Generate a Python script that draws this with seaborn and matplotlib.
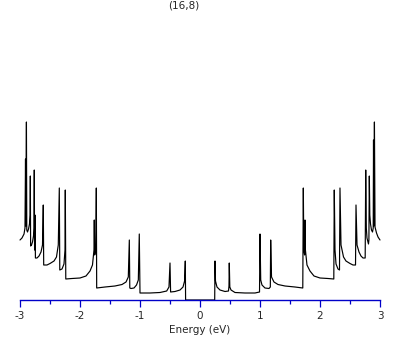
import pandas as pd
import matplotlib
matplotlib.use("Agg")
import matplotlib.pyplot as plt
import seaborn as sns
from matplotlib.ticker import MultipleLocator

# (16,8) nanotube density of states (arbitrary DOS units)
energy = [
    -3.000, -2.967, -2.933, -2.917, -2.908, -2.903, -2.893, -2.887, -2.875, -2.858,
    -2.842, -2.832, -2.828, -2.823, -2.808, -2.792, -2.775, -2.767, -2.762, -2.757,
    -2.750, -2.743, -2.717, -2.683, -2.650, -2.625, -2.612, -2.605, -2.550, -2.500,
    -2.433, -2.392, -2.362, -2.345, -2.337, -2.300, -2.267, -2.250, -2.245, -2.237,
    -2.133, -2.000, -1.900, -1.833, -1.792, -1.767, -1.762, -1.755, -1.737, -1.728,
    -1.722, -1.583, -1.417, -1.300, -1.233, -1.195, -1.178, -1.170, -1.150, -1.100,
    -1.058, -1.028, -1.012, -1.000, -0.833, -0.667, -0.555, -0.517, -0.500, -0.490,
    -0.417, -0.333, -0.283, -0.257, -0.245, -0.240,
    0.245, 0.250, 0.258, 0.283, 0.333, 0.417, 0.475, 0.483, 0.488, 0.497,
    0.517, 0.583, 0.750, 0.917, 0.992, 1.000, 1.012, 1.033, 1.083, 1.150,
    1.172, 1.178, 1.192, 1.233, 1.300, 1.417, 1.583, 1.713, 1.722, 1.730,
    1.743, 1.750, 1.757, 1.783, 1.833, 1.900, 2.000, 2.133, 2.230, 2.238,
    2.250, 2.267, 2.300, 2.325, 2.333, 2.350, 2.392, 2.433, 2.500, 2.550,
    2.592, 2.600, 2.617, 2.650, 2.683, 2.717, 2.753, 2.762, 2.772, 2.783,
    2.808, 2.815, 2.822, 2.830, 2.842, 2.858, 2.875, 2.887, 2.892, 2.898,
    2.907, 2.917, 2.942, 2.967, 3.000,
]
dos = [
    6.0, 6.2, 6.6, 7.2, 14.1, 7.4, 17.8, 7.0, 6.8, 7.1,
    7.6, 8.5, 12.4, 5.4, 5.5, 5.8, 6.4, 7.2, 13.0, 5.0,
    8.5, 4.2, 4.2, 4.4, 4.8, 5.5, 9.5, 3.5, 3.5, 3.65,
    3.9, 4.3, 5.5, 11.2, 3.0, 3.1, 3.6, 5.0, 11.0, 2.1,
    2.15, 2.2, 2.4, 2.9, 3.5, 5.0, 8.0, 4.5, 5.0, 11.2,
    1.2, 1.3, 1.4, 1.55, 1.8, 2.3, 6.0, 1.2, 1.15, 1.2,
    1.5, 2.0, 6.6, 0.7, 0.7, 0.75, 0.9, 1.3, 3.7, 0.8,
    0.85, 1.0, 1.3, 1.9, 3.9, 0.0,
    0.0, 3.9, 1.9, 1.3, 1.0, 0.85, 0.9, 1.4, 3.7, 1.3,
    1.0, 0.75, 0.7, 0.7, 0.8, 6.6, 2.0, 1.5, 1.2, 1.15,
    1.3, 6.0, 2.3, 1.8, 1.55, 1.4, 1.3, 1.2, 11.2, 5.0,
    4.5, 8.0, 5.0, 3.5, 2.9, 2.4, 2.2, 2.15, 2.1, 11.0,
    5.0, 3.6, 3.1, 3.0, 11.2, 5.5, 4.3, 3.9, 3.65, 3.5,
    3.5, 9.5, 5.5, 4.8, 4.4, 4.2, 4.2, 13.0, 7.2, 6.2,
    5.6, 6.0, 12.4, 8.5, 7.6, 7.0, 6.8, 7.2, 16.0, 7.4,
    17.8, 7.3, 6.7, 6.3, 6.0,
]

df = pd.DataFrame({"energy": energy, "dos": dos})

sns.set_style("white")
plt.rcParams["font.family"] = ["DejaVu Sans"]
plt.rcParams["axes.unicode_minus"] = False

axis_blue = "#0000C8"

fig = plt.figure(figsize=(4.09, 3.45), dpi=100)
ax = fig.add_axes([20 / 409, 45 / 345, 360 / 409, 280 / 345])

sns.lineplot(data=df, x="energy", y="dos", sort=False, estimator=None,
             color="black", linewidth=0.85, ax=ax)
ax.lines[0].set_clip_on(False)

ax.set_xlim(-3, 3)
ax.set_ylim(0, 28)
ax.xaxis.set_major_locator(MultipleLocator(1))
ax.xaxis.set_minor_locator(MultipleLocator(0.5))
ax.set_yticks([])
ax.set_ylabel("")

sns.despine(ax=ax, left=True)
ax.spines["bottom"].set_color(axis_blue)
ax.spines["bottom"].set_linewidth(1.0)
ax.tick_params(axis="x", which="major", length=5, width=0.9, color=axis_blue,
               labelsize=7.5, pad=3, bottom=True)
ax.tick_params(axis="x", which="minor", length=3, width=0.9, color=axis_blue, bottom=True)
ax.set_xlabel("Energy (eV)", fontsize=7.5, labelpad=3)

fig.text(184 / 409, 1 - 5 / 345, "(16,8)", ha="center", va="center", fontsize=7.5)

fig.savefig("out.png", dpi=100)
